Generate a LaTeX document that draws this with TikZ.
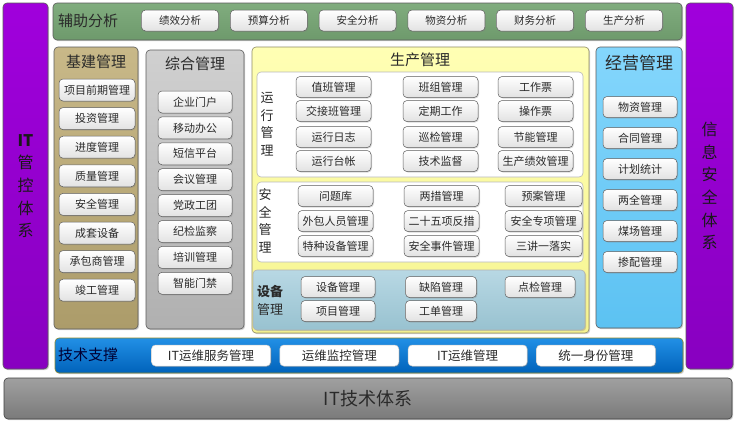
\documentclass[tikz,border=0pt]{standalone}
\usepackage{fontspec}
\setmainfont{Noto Sans CJK SC}
\usepackage{tikz}
\usetikzlibrary{shadows}
\definecolor{itpurple}{HTML}{A000DC}
\definecolor{itpurpledk}{HTML}{8800C0}
\definecolor{auxgreen}{HTML}{80AC7E}
\definecolor{auxgreendk}{HTML}{6E9A6C}
\definecolor{jjkhaki}{HTML}{C8B888}
\definecolor{jjkhakidk}{HTML}{AC9C6A}
\definecolor{zhgray}{HTML}{D0D0D0}
\definecolor{zhgraydk}{HTML}{B0B0B0}
\definecolor{scyellow}{HTML}{FFFFB4}
\definecolor{scyellowdk}{HTML}{F6F490}
\definecolor{sbblue}{HTML}{B8D8E4}
\definecolor{sbbluedk}{HTML}{98C2D0}
\definecolor{jyblue}{HTML}{84D6FC}
\definecolor{jybluedk}{HTML}{5CC2F2}
\definecolor{tkblue}{HTML}{2290E6}
\definecolor{tkbluedk}{HTML}{0062BA}
\definecolor{basegray}{HTML}{A0A0A0}
\definecolor{basegraydk}{HTML}{7A7A7A}
\definecolor{edgegray}{HTML}{5C5C5C}
\definecolor{itemlow}{HTML}{E2E2E2}
\definecolor{txtdk}{HTML}{2A2A2A}
\tikzset{
  panel/.style   = {rounded corners=4pt, draw=edgegray, line width=0.6pt,
                    inner sep=0pt,
                    drop shadow={shadow xshift=1.2pt, shadow yshift=-1.2pt,
                                 opacity=0.35}},
  sidebar/.style = {panel, top color=itpurple, bottom color=itpurpledk,
                    align=center, text=black!90,
                    font=\fontsize{16}{22.7}\selectfont},
  subbox/.style  = {rounded corners=4pt, draw=gray!55, line width=0.6pt,
                    fill=white, inner sep=0pt},
  ttl/.style     = {inner sep=0pt, text=txtdk, font=\fontsize{15}{18}\selectfont},
  vlab/.style    = {inner sep=0pt, align=center, text=txtdk,
                    font=\fontsize{13}{17.5}\selectfont},
  item/.style    = {draw=edgegray, line width=0.5pt, rounded corners=4pt,
                    top color=white, bottom color=itemlow,
                    minimum height=21pt, inner sep=0pt, text=txtdk,
                    font=\fontsize{11}{13}\selectfont,
                    drop shadow={shadow xshift=1pt, shadow yshift=-1pt,
                                 opacity=0.3}},
  btn/.style     = {item, minimum width=77pt, font=\fontsize{10.5}{12}\selectfont},
  tkbtn/.style   = {item, draw=gray!40, top color=white, bottom color=white,
                    minimum width=119pt, font=\fontsize{12.5}{14}\selectfont},
}
\begin{document}
\begin{tikzpicture}[x=1pt,y=-1pt]
  \path[use as bounding box, fill=white] (0,0) rectangle (739,426);

  % side bars
  \node[sidebar, minimum width=45pt, minimum height=366pt] (itctl) at (25.5,186)
    {\textbf{IT}\\管\\控\\体\\系};
  \node[sidebar, minimum width=47pt, minimum height=366pt] (infosec) at (709.5,186)
    {信\\息\\安\\全\\体\\系};

  % 辅助分析
  \node[panel, top color=auxgreen, bottom color=auxgreendk,
        minimum width=629pt, minimum height=37pt] (aux) at (367.5,21.5) {};
  \node[ttl] (auxlab) at (88,21) {辅助分析};
  \foreach \t [count=\i] in {绩效分析,预算分析,安全分析,物资分析,财务分析,生产分析}
    \node[btn] (aux\i) at ({180+88.8*(\i-1)},20.5) {\t};

  % 基建管理
  \node[panel, top color=jjkhaki, bottom color=jjkhakidk,
        minimum width=84pt, minimum height=282pt] (jj) at (96,188) {};
  \node[ttl] (jjlab) at (96,62) {基建管理};
  \foreach \t [count=\i] in {项目前期管理,投资管理,进度管理,质量管理,安全管理,
                             成套设备,承包商管理,竣工管理}
    \node[item, minimum width=76pt, minimum height=22pt] (jj\i)
      at (97,{90+28.6*(\i-1)}) {\t};

  % 综合管理
  \node[panel, top color=zhgray, bottom color=zhgraydk,
        minimum width=98pt, minimum height=279pt] (zh) at (195,189.5) {};
  \node[ttl] (zhlab) at (195,64) {综合管理};
  \foreach \t [count=\i] in {企业门户,移动办公,短信平台,会议管理,党政工团,
                             纪检监察,培训管理,智能门禁}
    \node[item, minimum width=74pt, minimum height=22pt] (zh\i)
      at (195,{102+25.9*(\i-1)}) {\t};

  % 生产管理
  \node[panel, draw=gray!70!olive, top color=scyellow, bottom color=scyellowdk,
        minimum width=337pt, minimum height=286pt] (sc) at (420.5,190) {};
  \node[ttl] (sclab) at (420,60) {生产管理};

  \node[subbox, minimum width=326pt, minimum height=105pt] (yx) at (420,124.5) {};
  \node[vlab] (yxlab) at (267,124) {运\\行\\管\\理};
  \node[item, minimum width=75pt] (yx11) at (333.5,87)  {值班管理};
  \node[item, minimum width=75pt] (yx12) at (440.5,87)  {班组管理};
  \node[item, minimum width=75pt] (yx13) at (535.5,87)  {工作票};
  \node[item, minimum width=75pt] (yx21) at (333.5,111) {交接班管理};
  \node[item, minimum width=75pt] (yx22) at (440.5,111) {定期工作};
  \node[item, minimum width=75pt] (yx23) at (535.5,111) {操作票};
  \node[item, minimum width=75pt] (yx31) at (333.5,137) {运行日志};
  \node[item, minimum width=75pt] (yx32) at (440.5,137) {巡检管理};
  \node[item, minimum width=75pt] (yx33) at (535.5,137) {节能管理};
  \node[item, minimum width=75pt] (yx41) at (333.5,161) {运行台帐};
  \node[item, minimum width=75pt] (yx42) at (440.5,161) {技术监督};
  \node[item, minimum width=75pt] (yx43) at (535.5,161) {生产绩效管理};

  \node[subbox, minimum width=326pt, minimum height=80pt] (aq) at (420,222) {};
  \node[vlab] (aqlab) at (265,221) {安\\全\\管\\理};
  \node[item, minimum width=75pt] (aq11) at (335.5,196) {问题库};
  \node[item, minimum width=75pt] (aq12) at (441.5,196) {两措管理};
  \node[item, minimum width=77pt] (aq13) at (543.5,196) {预案管理};
  \node[item, minimum width=75pt] (aq21) at (335.5,221) {外包人员管理};
  \node[item, minimum width=75pt] (aq22) at (441.5,221) {二十五项反措};
  \node[item, minimum width=77pt] (aq23) at (543.5,221) {安全专项管理};
  \node[item, minimum width=75pt] (aq31) at (335.5,246) {特种设备管理};
  \node[item, minimum width=75pt] (aq32) at (441.5,246) {安全事件管理};
  \node[item, minimum width=77pt] (aq33) at (543.5,246) {三讲一落实};

  \node[panel, draw=gray!60, top color=sbblue, bottom color=sbbluedk,
        minimum width=332pt, minimum height=60pt] (sb) at (419,300) {};
  \node[vlab] (sblab) at (270,300.5) {\textbf{设备}\\管理};
  \node[item, minimum width=74pt] (sb11) at (338,287) {设备管理};
  \node[item, minimum width=71pt] (sb12) at (441,287) {缺陷管理};
  \node[item, minimum width=70pt] (sb13) at (540,287) {点检管理};
  \node[item, minimum width=74pt] (sb21) at (338,311) {项目管理};
  \node[item, minimum width=71pt] (sb22) at (441,311) {工单管理};

  % 经营管理
  \node[panel, top color=jyblue, bottom color=jybluedk,
        minimum width=86pt, minimum height=281pt] (jy) at (639,187.5) {};
  \node[ttl, font=\fontsize{17}{20}\selectfont] (jylab) at (639,63) {经营管理};
  \foreach \t [count=\i] in {物资管理,合同管理,计划统计,两全管理,煤场管理,掺配管理}
    \node[item, minimum width=74pt] (jy\i) at (640,{107+31*(\i-1)}) {\t};

  % 技术支撑
  \node[panel, draw=olive!70!gray, top color=tkblue, bottom color=tkbluedk,
        minimum width=628pt, minimum height=35pt] (tk) at (369,355.5) {};
  \node[ttl, text=black!80!blue] (tklab) at (88,355) {技术支撑};
  \foreach \t [count=\i] in {IT运维服务管理,运维监控管理,IT运维管理,统一身份管理}
    \node[tkbtn] (tk\i) at ({211+128.3*(\i-1)},355.5) {\t};

  % IT技术体系
  \node[panel, draw=black!75, top color=basegray, bottom color=basegraydk,
        minimum width=728pt, minimum height=41pt,
        font=\fontsize{18}{20}\selectfont, text=txtdk] (itbase) at (368,398.5)
    {IT技术体系};
\end{tikzpicture}
\end{document}
